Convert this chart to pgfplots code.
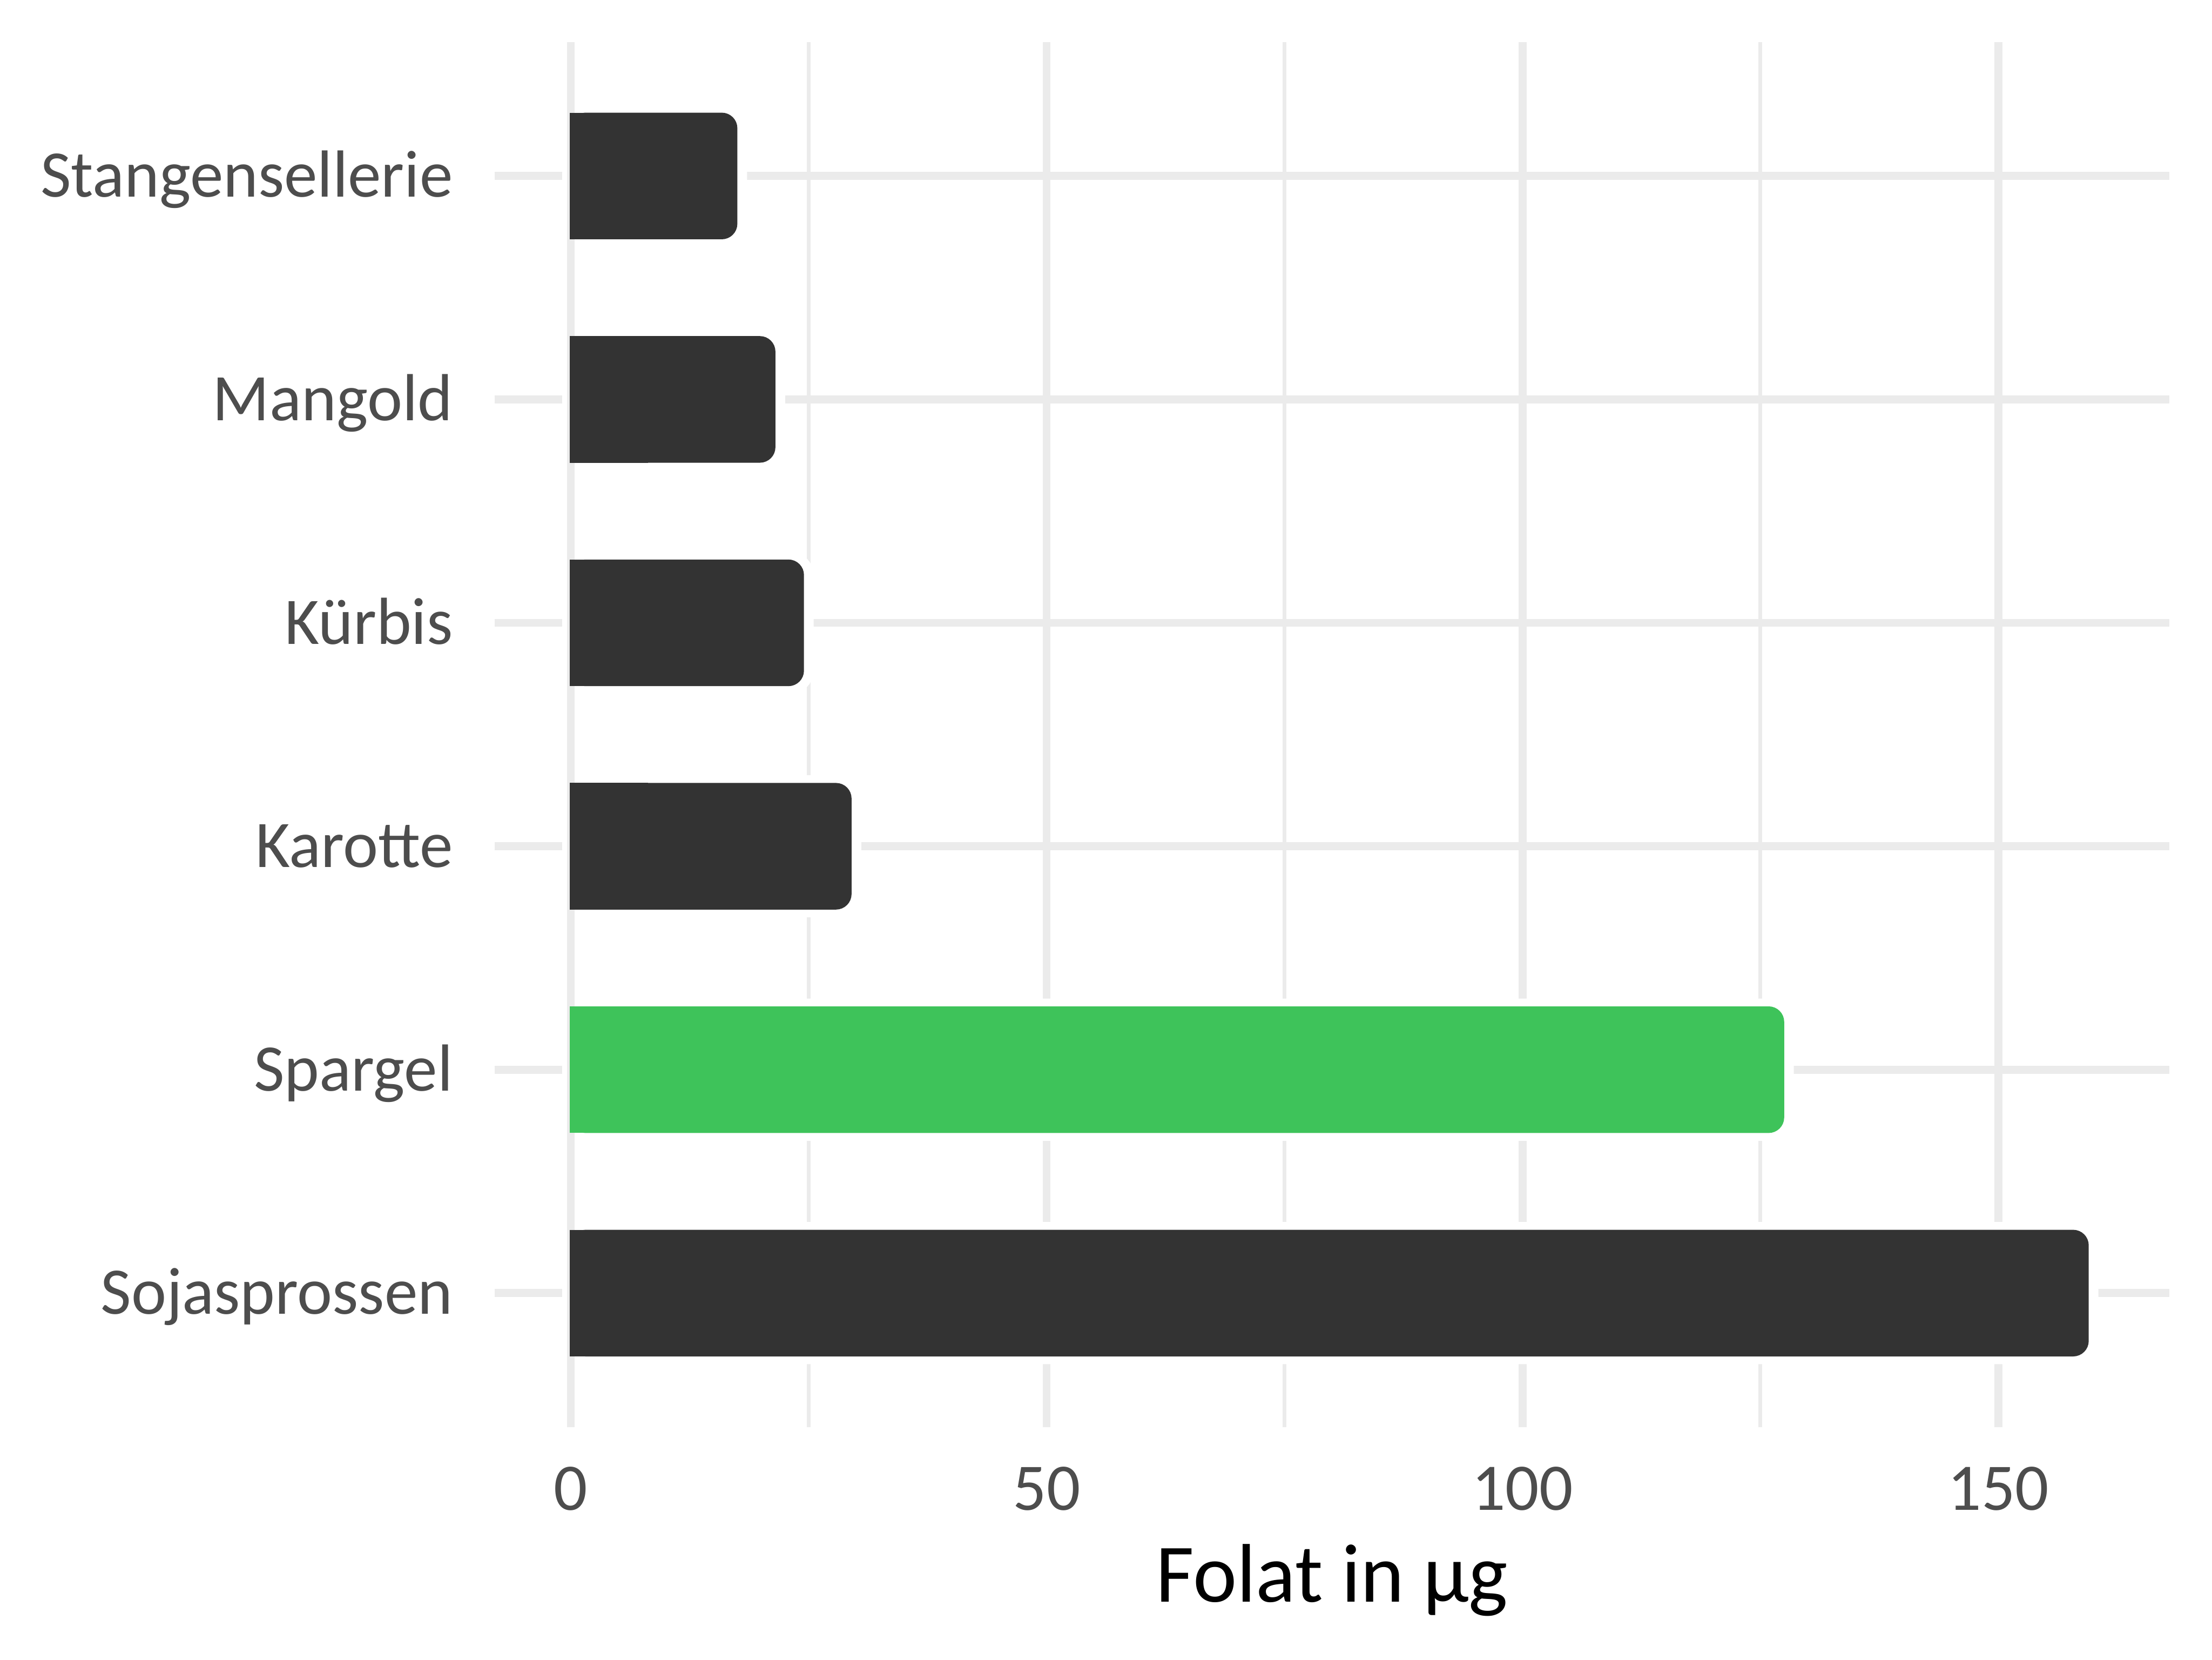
\documentclass[border=0pt]{standalone}
\usepackage{fontspec}
\setmainfont{Carlito}
\usepackage{pgfplots}
\pgfplotsset{compat=1.18}
\definecolor{bardark}{HTML}{333333}
\definecolor{bargreen}{HTML}{3EC35A}
\definecolor{gridgray}{HTML}{EBEBEB}
\definecolor{ticktext}{HTML}{4D4D4D}

\begin{document}
\begin{tikzpicture}
\useasboundingbox (0,0) rectangle (16cm,12cm);
\begin{axis}[
	at={(3.578cm,1.68cm)}, anchor=south west,
	scale only axis,
	width=12.115cm, height=10.017cm,
	xmin=-8, xmax=168, ymin=0.4, ymax=6.6,
	xtick={0,50,100,150},
	minor xtick={25,75,125},
	ytick={1,...,6},
	yticklabels={Sojasprossen,Spargel,Karotte,Kürbis,Mangold,Stangensellerie},
	xmajorgrids, xminorgrids, ymajorgrids,
	major grid style={gridgray, line width=1.65pt},
	minor grid style={gridgray, line width=0.82pt},
	axis line style={draw=none},
	major tick length=0pt, minor tick length=0pt,
	tick style={draw=none},
	/pgf/number format/assume math mode=true,
	ticklabel style={font=\fontsize{13.7}{16}\selectfont, text=ticktext, inner sep=0pt},
	yticklabel style={anchor=base east, xshift=-0.296cm, yshift=-0.153cm},
	xticklabel style={anchor=base, yshift=-0.601cm},
	xlabel={Folat in µg},
	xlabel style={at={(axis description cs:0.5,0)}, anchor=base, yshift=-1.263cm,
		inner sep=0pt, font=\fontsize{17.1}{20}\selectfont},
	bar width=0.558, bar shift=0pt,
]
% white halo round every bar (cuts the grid lines like in the original)
\addplot[xbar, fill=white, draw=white, line width=3.6pt, rounded corners=3pt]
	coordinates {(17.6,6) (21.6,5) (24.6,4) (29.6,3) (127.6,2) (159.6,1)};
% grid line at zero again, the halo covers it
\addplot[sharp plot, no marks, gridgray, line width=1.65pt]
	coordinates {(0,0.4) (0,6.6)};
\addplot[xbar, fill=bardark, draw=bardark, line width=0.4pt, rounded corners=3pt]
	coordinates {(17.4,6) (21.4,5) (24.4,4) (29.4,3) (159.4,1)};
\addplot[xbar, fill=bargreen, draw=bargreen, line width=0.4pt, rounded corners=3pt]
	coordinates {(127.4,2)};
% square left ends
\addplot[xbar, fill=bardark, draw=bardark, line width=0.4pt]
	coordinates {(8,6) (8,5) (8,4) (8,3) (8,1)};
\addplot[xbar, fill=bargreen, draw=bargreen, line width=0.4pt]
	coordinates {(8,2)};
\end{axis}
\end{tikzpicture}
\end{document}
